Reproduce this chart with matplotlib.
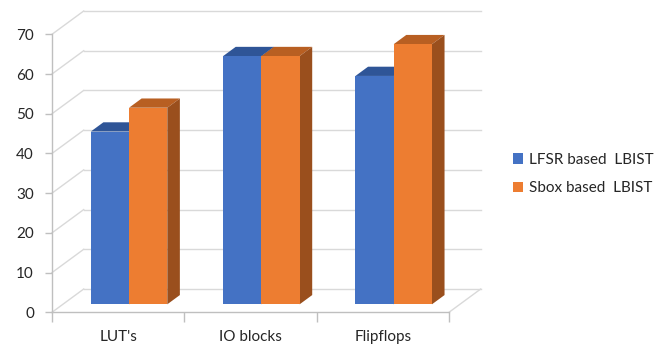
import matplotlib
matplotlib.use("Agg")
import matplotlib.pyplot as plt
from matplotlib.patches import Polygon, Patch

plt.rcParams['font.family'] = ['Lato', 'DejaVu Sans']

categories = ["LUT's", "IO blocks", "Flipflops"]
series_names = ["LFSR based  LBIST", "Sbox based  LBIST"]
lfsr_values = [43.5, 62.5, 57.5]
sbox_values = [49.5, 62.5, 65.5]
yticks = [0, 10, 20, 30, 40, 50, 60, 70]

front_colors = ["#4472C4", "#ED7D31"]
top_colors = ["#2F5597", "#B85F22"]
side_colors = ["#2A4C87", "#9A4F1D"]

W, H = 668, 351
fig = plt.figure(figsize=(W / 100, H / 100), dpi=100)
ax = fig.add_axes([52 / W, 1 - 312.3 / H, (449 - 52) / W, (312.3 - 34.3) / H])
ax.set_xlim(0, 3)
ax.set_ylim(0, 70)

# depth offsets in data units (full depth of the plot box)
DX = 31.7 / (397 / 3)
DY = 23.3 / (278 / 70)

grid_c = "#D9D9D9"
axis_c = "#BFBFBF"
text_c = "#262626"

# back wall gridlines and side wall diagonals
for v in yticks:
    ax.plot([DX, 3 + DX], [v + DY, v + DY], color=grid_c, lw=1.0, clip_on=False, zorder=1)
    ax.plot([0, DX], [v, v + DY], color=grid_c, lw=1.0, clip_on=False, zorder=1)
# floor right edge
ax.plot([3, 3 + DX], [0, DY], color=grid_c, lw=1.0, clip_on=False, zorder=1)

# bars
d0, d1 = 0.343, 0.74
bw = 0.289
all_vals = [lfsr_values, sbox_values]
for j, vals in enumerate(all_vals):
    xs = [i + 0.5 - bw + j * bw for i in range(len(categories))]
    ax.bar([x + d0 * DX for x in xs], vals, width=bw, bottom=d0 * DY, align='edge',
           color=front_colors[j], edgecolor='none', zorder=3 + j * 3, clip_on=False)
    for x, v in zip(xs, vals):
        top = Polygon([(x + d0 * DX, v + d0 * DY), (x + bw + d0 * DX, v + d0 * DY),
                       (x + bw + d1 * DX, v + d1 * DY), (x + d1 * DX, v + d1 * DY)],
                      closed=True, facecolor=top_colors[j], edgecolor='none',
                      zorder=2 + j * 3, clip_on=False)
        side = Polygon([(x + bw + d0 * DX, d0 * DY), (x + bw + d1 * DX, d1 * DY),
                        (x + bw + d1 * DX, v + d1 * DY), (x + bw + d0 * DX, v + d0 * DY)],
                       closed=True, facecolor=side_colors[j], edgecolor='none',
                       zorder=2 + j * 3, clip_on=False)
        ax.add_patch(top)
        ax.add_patch(side)

# axes styling
for s in ["top", "right"]:
    ax.spines[s].set_visible(False)
for s in ["left", "bottom"]:
    ax.spines[s].set_color(axis_c)
    ax.spines[s].set_linewidth(1.0)
    ax.spines[s].set_zorder(10)
ax.set_facecolor("none")
ax.set_yticks(yticks)
ax.set_yticklabels([str(t) for t in yticks])
ax.tick_params(axis='y', length=5, width=1.0, color=axis_c, pad=8,
               labelsize=11, labelcolor=text_c)
ax.set_xticks([0, 1, 2, 3])
ax.set_xticklabels([])
ax.set_xticks([0.5, 1.5, 2.5], minor=True)
ax.set_xticklabels(categories, minor=True)
ax.tick_params(axis='x', which='major', length=7, width=1.0, color=axis_c)
ax.tick_params(axis='x', which='minor', length=0, pad=13, labelsize=11, labelcolor=text_c)

handles = [Patch(facecolor=front_colors[j], edgecolor='none') for j in range(2)]
fig.legend(handles, series_names, loc='center left',
           bbox_to_anchor=(499 / W, 1 - 174 / H), frameon=False,
           handlelength=0.7, handleheight=0.7, handletextpad=0.35,
           labelspacing=0.95, fontsize=11, labelcolor=text_c)

fig.savefig("out.png", dpi=100)
